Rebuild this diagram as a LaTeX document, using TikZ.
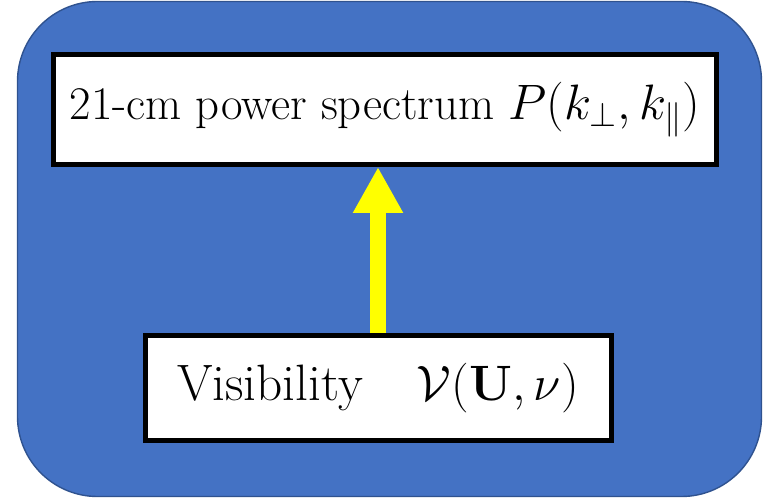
\documentclass[tikz,border=0pt]{standalone}
\usepackage{xcolor}
\usepackage{tikz}
\usetikzlibrary{positioning, arrows.meta}
\definecolor{panelblue}{HTML}{4472C4}
\definecolor{paneledge}{HTML}{2F528F}
\definecolor{arrowyellow}{HTML}{FFFF00}

\begin{document}
\begin{tikzpicture}[x=0.5pt, y=-0.5pt,
    quantity/.style={fill=white, draw=black, line width=2.5pt, inner sep=0pt}]
  \useasboundingbox (0,0) rectangle (763,501);
  \fill[panelblue, draw=paneledge, line width=0.7pt, rounded corners=40pt]
    (17.5,1.5) rectangle (761.5,496.5);
  \node[quantity, minimum width=331.5pt, minimum height=55pt,
        font=\fontsize{23.4}{28}\selectfont] (spectrum) at (385,109.5)
    {21-cm power spectrum $P(k_\perp, k_\parallel)$};
  \node[quantity, minimum width=233pt, minimum height=52.5pt,
        font=\fontsize{25.6}{31}\selectfont] (visibility) at (378,388)
    {Visibility\hspace{0.75em}\ {\fontsize{28.8}{34}\selectfont$\mathcal{V}(\mathbf{U},\nu)$}};
  \draw[arrowyellow, line width=8pt, -{Triangle[width=23.5pt, length=23pt]}]
    (visibility.north) -- (visibility.north |- spectrum.south);
\end{tikzpicture}
\end{document}
